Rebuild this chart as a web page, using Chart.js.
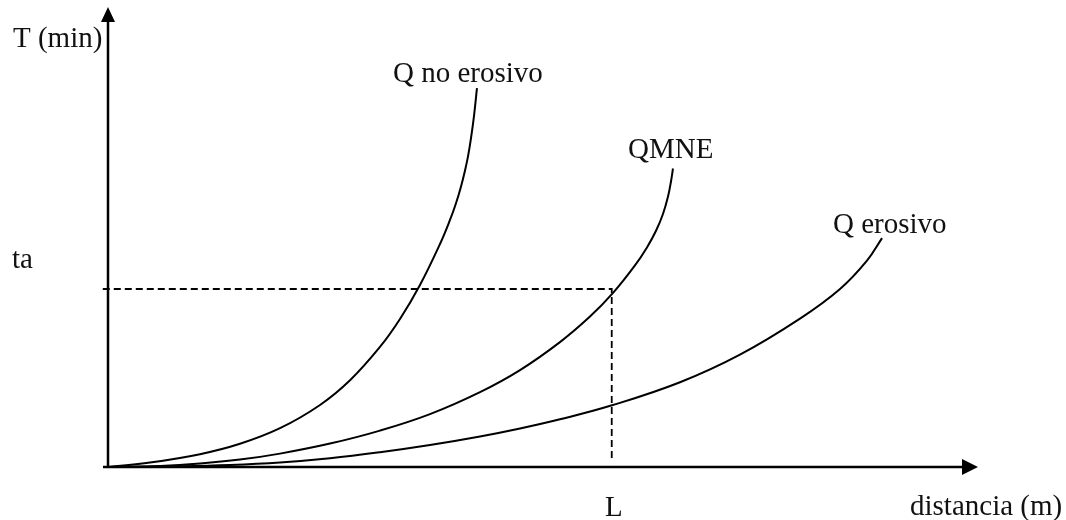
<!DOCTYPE html>
<html>
<head>
<meta charset="utf-8">
<script src="https://cdn.jsdelivr.net/npm/chart.js@4/dist/chart.umd.min.js"></script>
<style>
  html, body { margin: 0; padding: 0; background: #fff; }
  #wrap { width: 1066px; height: 520px; position: relative; }
</style>
</head>
<body>
<div id="wrap"><canvas id="c" width="1066" height="520"></canvas></div>
<script>
// ---- Data (abstract units: distance 0..100, time 0..100) ----
const seriesNames = ["Q no erosivo", "QMNE", "Q erosivo"];

const qNoErosivoX = [0, 4.83, 10.57, 15.17, 19.77, 24.37, 27.82, 31.26, 33.56, 35.86, 38.16, 39.31, 40.0, 40.57, 41.03, 41.38, 41.72, 42.07, 42.41];
const qNoErosivoT = [0, 0.96, 2.78, 5.04, 8.43, 13.48, 18.85, 26.09, 32.17, 39.57, 48.48, 53.70, 57.35, 60.93, 64.41, 67.54, 71.46, 76.35, 82.35];

const qmneX = [0, 5.98, 10.57, 15.17, 19.77, 25.52, 31.26, 37.01, 42.76, 47.36, 51.95, 55.40, 58.05, 60.57, 61.95, 62.99, 63.79, 64.37, 64.71, 64.94];
const qmneT = [0, 0.22, 0.74, 1.61, 2.91, 5.09, 7.91, 11.5, 16.28, 21.07, 27.15, 32.70, 37.85, 43.83, 47.74, 51.35, 55.0, 58.80, 62.07, 64.89];

const qErosivoX = [0, 8.28, 14.02, 19.77, 25.52, 31.26, 37.01, 42.76, 47.36, 51.95, 57.93, 65.75, 72.64, 79.54, 84.14, 87.24, 88.97];
const qErosivoT = [0, 0.15, 0.42, 0.97, 1.89, 3.20, 4.77, 6.63, 8.37, 10.37, 13.41, 18.43, 24.43, 32.26, 38.70, 44.87, 49.76];

const taValue = 38.7;   // "ta" level on the time axis
const lValue = 57.9;    // "L" position on the distance axis

const axisTitles = ["T (min)", "distancia (m)"];
const markerLabels = ["ta", "L"];

function pts(xs, ys) { return xs.map((x, i) => ({ x: x, y: ys[i] })); }

const FONT = '29px "Liberation Serif", "Times New Roman", serif';

// text placements (canvas px)
const textPlacements = [
  { text: axisTitles[0], x: 13, y: 47 },
  { text: axisTitles[1], x: 910, y: 515 },
  { text: markerLabels[0], x: 12, y: 268 },
  { text: markerLabels[1], x: 605, y: 516 },
  { text: seriesNames[0], x: 393, y: 82 },
  { text: seriesNames[1], x: 628, y: 158 },
  { text: seriesNames[2], x: 833, y: 233 }
];

const axesPlugin = {
  id: 'axesAndText',
  afterDatasetsDraw(chart) {
    const ctx = chart.ctx;
    const xs = chart.scales.x, ys = chart.scales.y;
    const x0 = xs.getPixelForValue(0), y0 = ys.getPixelForValue(0);
    const xEnd = xs.getPixelForValue(xs.max), yEnd = ys.getPixelForValue(ys.max);
    ctx.save();
    ctx.strokeStyle = '#000';
    ctx.fillStyle = '#000';
    ctx.lineWidth = 2.5;
    ctx.lineCap = 'butt';
    // y axis
    ctx.beginPath();
    ctx.moveTo(x0, y0 + 1);
    ctx.lineTo(x0, yEnd + 12);
    ctx.stroke();
    ctx.beginPath();
    ctx.moveTo(x0, yEnd);
    ctx.lineTo(x0 - 7, yEnd + 15);
    ctx.lineTo(x0 + 7, yEnd + 15);
    ctx.closePath();
    ctx.fill();
    // x axis
    ctx.beginPath();
    ctx.moveTo(x0 - 5, y0);
    ctx.lineTo(xEnd - 12, y0);
    ctx.stroke();
    ctx.beginPath();
    ctx.moveTo(xEnd, y0);
    ctx.lineTo(xEnd - 16, y0 - 8);
    ctx.lineTo(xEnd - 16, y0 + 8);
    ctx.closePath();
    ctx.fill();
    // texts
    ctx.font = FONT;
    ctx.textBaseline = 'alphabetic';
    ctx.textAlign = 'left';
    ctx.fillStyle = '#111';
    textPlacements.forEach(t => ctx.fillText(t.text, t.x, t.y));
    ctx.restore();
  }
};

const curveStyle = {
  borderColor: '#000',
  borderWidth: 2,
  pointRadius: 0,
  showLine: true,
  fill: false,
  tension: 0.4,
  cubicInterpolationMode: 'default'
};

new Chart(document.getElementById('c'), {
  type: 'scatter',
  data: {
    datasets: [
      Object.assign({ label: seriesNames[0], data: pts(qNoErosivoX, qNoErosivoT) }, curveStyle),
      Object.assign({ label: seriesNames[1], data: pts(qmneX, qmneT) }, curveStyle),
      Object.assign({ label: seriesNames[2], data: pts(qErosivoX, qErosivoT) }, curveStyle),
      {
        label: 'guide',
        data: [{ x: -0.6, y: taValue }, { x: lValue, y: taValue }, { x: lValue, y: 1.5 }],
        borderColor: '#000',
        borderWidth: 1.8,
        borderDash: [7, 4],
        pointRadius: 0,
        showLine: true,
        tension: 0,
        clip: false
      }
    ]
  },
  options: {
    responsive: false,
    animation: false,
    layout: { padding: { left: 108, top: 7, right: 88, bottom: 53 } },
    plugins: { legend: { display: false }, tooltip: { enabled: false } },
    scales: {
      x: { type: 'linear', min: 0, max: 100, display: false },
      y: { type: 'linear', min: 0, max: 100, display: false }
    }
  },
  plugins: [axesPlugin]
});
</script>
</body>
</html>
